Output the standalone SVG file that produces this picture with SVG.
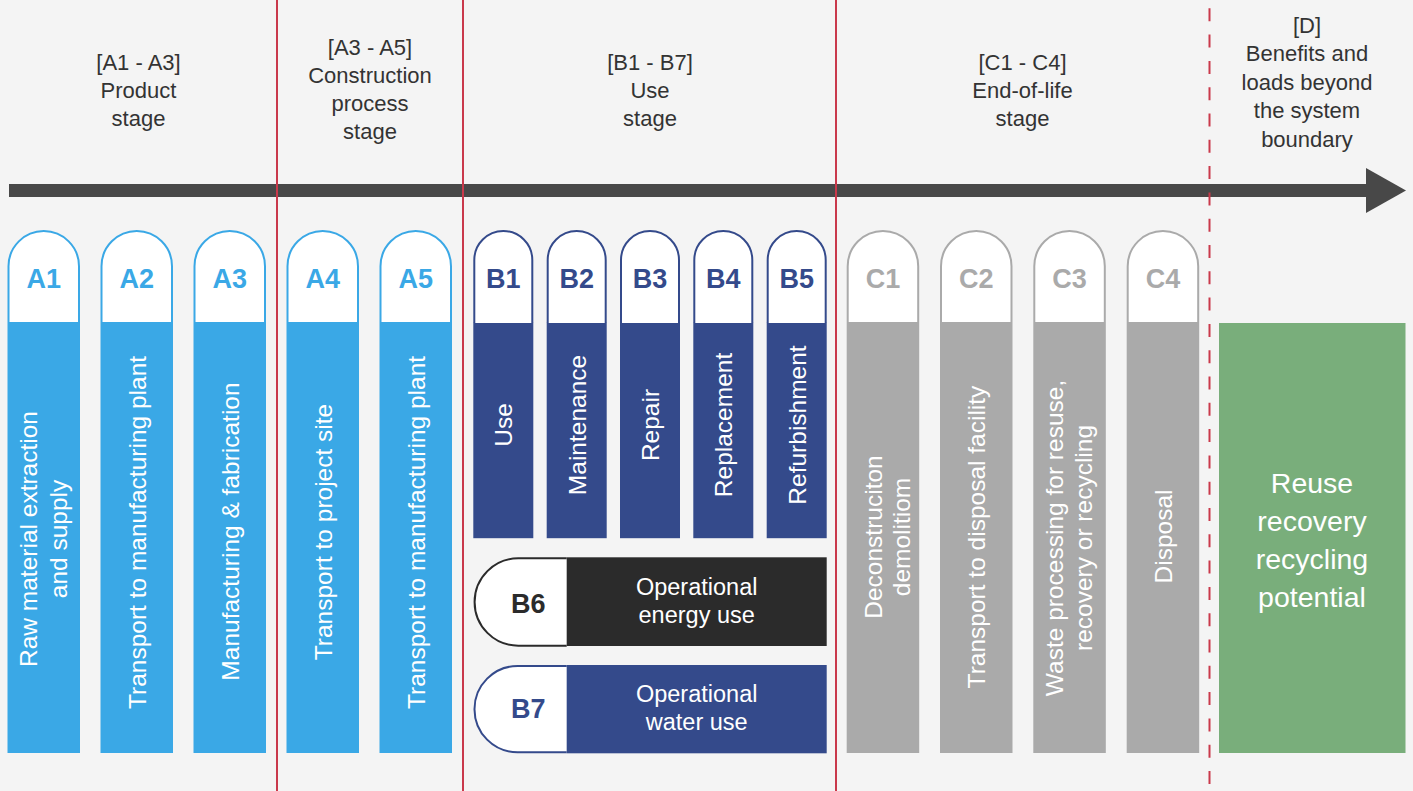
<svg xmlns="http://www.w3.org/2000/svg" width="1413" height="791" viewBox="0 0 1413 791">
<style>
.hdr{font-family:"Liberation Sans",Arial,sans-serif;font-size:22px;fill:#333;text-anchor:middle}
.lbl{font-family:"Liberation Sans",Arial,sans-serif;font-size:27px;font-weight:bold;text-anchor:middle}
.rot{font-family:"Liberation Sans",Arial,sans-serif;font-size:24.5px;fill:#fff;text-anchor:middle}
.op{font-family:"Liberation Sans",Arial,sans-serif;font-size:23.5px;fill:#fff;text-anchor:middle}
.dtx{font-family:"Liberation Sans",Arial,sans-serif;font-size:28.5px;fill:#fff;text-anchor:middle}
.sep{stroke:#c9394b;stroke-width:2;fill:none}
.archA{fill:#fff;stroke:#3aa8e6;stroke-width:2}
.archB{fill:#fff;stroke:#344a8b;stroke-width:2}
.archC{fill:#fff;stroke:#aaaaaa;stroke-width:2}
.archK{fill:#fff;stroke:#2b2b2b;stroke-width:2}
.bodyA{fill:#3aa8e6}
.bodyB{fill:#344a8b}
.bodyC{fill:#aaaaaa}
.bodyK{fill:#2b2b2b}
.lA{fill:#3aa8e6}
.lB{fill:#344a8b}
.lC{fill:#aaaaaa}
.lK{fill:#2b2b2b}
</style>
<rect x="0" y="0" width="1413" height="791" fill="#f4f4f4"/>

<g id="headers">
<text class="hdr"><tspan x="138.5" y="70">[A1 - A3]</tspan><tspan x="138.5" y="98">Product</tspan><tspan x="138.5" y="126">stage</tspan></text>
<text class="hdr"><tspan x="370" y="55">[A3 - A5]</tspan><tspan x="370" y="83">Construction</tspan><tspan x="370" y="111">process</tspan><tspan x="370" y="139">stage</tspan></text>
<text class="hdr"><tspan x="650" y="70">[B1 - B7]</tspan><tspan x="650" y="98">Use</tspan><tspan x="650" y="126">stage</tspan></text>
<text class="hdr"><tspan x="1022.5" y="70">[C1 - C4]</tspan><tspan x="1022.5" y="98">End-of-life</tspan><tspan x="1022.5" y="126">stage</tspan></text>
<text class="hdr"><tspan x="1307" y="33">[D]</tspan><tspan x="1307" y="61">Benefits and</tspan><tspan x="1307" y="89.5">loads beyond</tspan><tspan x="1307" y="118">the system</tspan><tspan x="1307" y="146.5">boundary</tspan></text>
</g>

<g id="timeline">
<rect x="9" y="184" width="1358" height="13" fill="#484848"/>
<polygon points="1366,168 1406,190.5 1366,213" fill="#484848"/>
</g>

<g id="A1">
<rect class="bodyA" x="7.5" y="322" width="72.5" height="431"/>
<path class="archA" d="M8.5 322 V266.25 A35.25 35.25 0 0 1 79 266.25 V322"/>
<text class="lbl lA" x="43.75" y="288">A1</text>
<text class="rot" transform="translate(0,539) rotate(-90)"><tspan x="0" y="37">Raw material extraction</tspan><tspan x="0" y="66.5">and supply</tspan></text>
</g>
<g id="A2">
<rect class="bodyA" x="100.5" y="322" width="72.5" height="431"/>
<path class="archA" d="M101.5 322 V266.25 A35.25 35.25 0 0 1 172 266.25 V322"/>
<text class="lbl lA" x="136.75" y="288">A2</text>
<text class="rot" transform="translate(0,532.5) rotate(-90)" x="0" y="145.5">Transport to manufacturing plant</text>
</g>
<g id="A3">
<rect class="bodyA" x="193.5" y="322" width="72.5" height="431"/>
<path class="archA" d="M194.5 322 V266.25 A35.25 35.25 0 0 1 265 266.25 V322"/>
<text class="lbl lA" x="229.75" y="288">A3</text>
<text class="rot" transform="translate(0,531.5) rotate(-90)" x="0" y="238.5">Manufacturing &amp; fabrication</text>
</g>
<g id="A4">
<rect class="bodyA" x="286.5" y="322" width="72.5" height="431"/>
<path class="archA" d="M287.5 322 V266.25 A35.25 35.25 0 0 1 358 266.25 V322"/>
<text class="lbl lA" x="322.75" y="288">A4</text>
<text class="rot" transform="translate(0,532) rotate(-90)" x="0" y="331.5">Transport to project site</text>
</g>
<g id="A5">
<rect class="bodyA" x="379.5" y="322" width="72.5" height="431"/>
<path class="archA" d="M380.5 322 V266.25 A35.25 35.25 0 0 1 451 266.25 V322"/>
<text class="lbl lA" x="415.75" y="288">A5</text>
<text class="rot" transform="translate(0,532.5) rotate(-90)" x="0" y="424.5">Transport to manufacturing plant</text>
</g>

<g id="B1">
<rect class="bodyB" x="473.3" y="322.7" width="60" height="215.5"/>
<path class="archB" d="M474.3 323 V260 A29 29 0 0 1 532.3 260 V323"/>
<text class="lbl lB" x="503.3" y="288">B1</text>
<text class="rot" transform="translate(0,425) rotate(-90)" x="0" y="512.3">Use</text>
</g>
<g id="B2">
<rect class="bodyB" x="546.7" y="322.7" width="60" height="215.5"/>
<path class="archB" d="M547.7 323 V260 A29 29 0 0 1 605.7 260 V323"/>
<text class="lbl lB" x="576.7" y="288">B2</text>
<text class="rot" transform="translate(0,425) rotate(-90)" x="0" y="585.6">Maintenance</text>
</g>
<g id="B3">
<rect class="bodyB" x="620" y="322.7" width="60" height="215.5"/>
<path class="archB" d="M621 323 V260 A29 29 0 0 1 679 260 V323"/>
<text class="lbl lB" x="650" y="288">B3</text>
<text class="rot" transform="translate(0,425) rotate(-90)" x="0" y="658.9">Repair</text>
</g>
<g id="B4">
<rect class="bodyB" x="693.3" y="322.7" width="60" height="215.5"/>
<path class="archB" d="M694.3 323 V260 A29 29 0 0 1 752.3 260 V323"/>
<text class="lbl lB" x="723.3" y="288">B4</text>
<text class="rot" transform="translate(0,425) rotate(-90)" x="0" y="732.2">Replacement</text>
</g>
<g id="B5">
<rect class="bodyB" x="766.7" y="322.7" width="60" height="215.5"/>
<path class="archB" d="M767.7 323 V260 A29 29 0 0 1 825.7 260 V323"/>
<text class="lbl lB" x="796.7" y="288">B5</text>
<text class="rot" transform="translate(0,425) rotate(-90)" x="0" y="805.6">Refurbishment</text>
</g>
<g id="B6">
<path class="archK" d="M566.7 558.3 H518.3 A43.7 43.7 0 0 0 518.3 645.7 H566.7"/>
<rect class="bodyK" x="566.7" y="557.3" width="260" height="88.7"/>
<text class="lbl lK" x="528.3" y="612.7">B6</text>
<text class="op"><tspan x="696.7" y="595">Operational</tspan><tspan x="696.7" y="622.7">energy use</tspan></text>
</g>
<g id="B7">
<path class="archB" d="M566.7 666 H517.6 A43.15 43.15 0 0 0 517.6 752.3 H566.7"/>
<rect class="bodyB" x="566.7" y="665" width="260" height="88.3"/>
<text class="lbl lB" x="528.3" y="718.3">B7</text>
<text class="op"><tspan x="696.7" y="701.7">Operational</tspan><tspan x="696.7" y="730">water use</tspan></text>
</g>

<g id="C1">
<rect class="bodyC" x="846.7" y="322" width="72.5" height="431"/>
<path class="archC" d="M847.7 322 V266.25 A35.25 35.25 0 0 1 918.2 266.25 V322"/>
<text class="lbl lC" x="883" y="288">C1</text>
<text class="rot" transform="translate(0,537) rotate(-90)"><tspan x="0" y="881.7">Deconstruciton</tspan><tspan x="0" y="910">demolitiom</tspan></text>
</g>
<g id="C2">
<rect class="bodyC" x="940" y="322" width="72.5" height="431"/>
<path class="archC" d="M941 322 V266.25 A35.25 35.25 0 0 1 1011.5 266.25 V322"/>
<text class="lbl lC" x="976.3" y="288">C2</text>
<text class="rot" transform="translate(0,537) rotate(-90)" x="0" y="985">Transport to disposal facility</text>
</g>
<g id="C3">
<rect class="bodyC" x="1033.3" y="322" width="72.5" height="431"/>
<path class="archC" d="M1034.3 322 V266.25 A35.25 35.25 0 0 1 1104.8 266.25 V322"/>
<text class="lbl lC" x="1069.6" y="288">C3</text>
<text class="rot" transform="translate(0,538) rotate(-90)"><tspan x="0" y="1063.3">Waste processing for resuse,</tspan><tspan x="0" y="1091.7">recovery or recycling</tspan></text>
</g>
<g id="C4">
<rect class="bodyC" x="1126.7" y="322" width="72.5" height="431"/>
<path class="archC" d="M1127.7 322 V266.25 A35.25 35.25 0 0 1 1198.2 266.25 V322"/>
<text class="lbl lC" x="1163" y="288">C4</text>
<text class="rot" transform="translate(0,536.5) rotate(-90)" x="0" y="1171.8">Disposal</text>
</g>

<g id="D">
<rect x="1219" y="323" width="186.5" height="430" fill="#79ae7b"/>
<text class="dtx"><tspan x="1312" y="493">Reuse</tspan><tspan x="1312" y="531">recovery</tspan><tspan x="1312" y="568.5">recycling</tspan><tspan x="1312" y="606.5">potential</tspan></text>
</g>

<g id="connectors">
<line class="sep" x1="277" y1="0" x2="277" y2="791"/>
<line class="sep" x1="463" y1="0" x2="463" y2="791"/>
<line class="sep" x1="836" y1="0" x2="836" y2="791"/>
<line class="sep" x1="1209.5" y1="0" x2="1209.5" y2="791" stroke-dasharray="13 13.3" stroke-dashoffset="18"/>
</g>
</svg>
